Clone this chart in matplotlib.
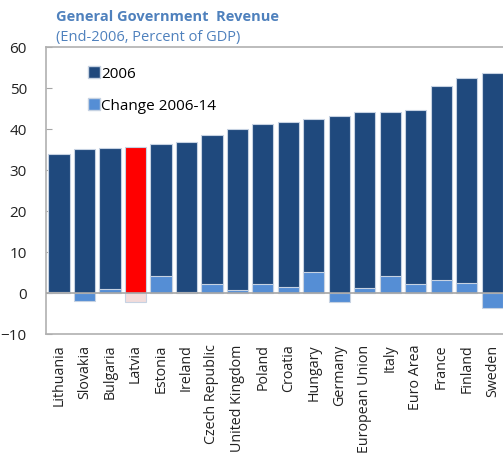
import matplotlib
matplotlib.use("Agg")
import matplotlib.pyplot as plt
import matplotlib.patches as patches

countries = ["Lithuania", "Slovakia", "Bulgaria", "Latvia", "Estonia", "Ireland",
             "Czech Republic", "United Kingdom", "Poland", "Croatia", "Hungary",
             "Germany", "European Union", "Italy", "Euro Area", "France",
             "Finland", "Sweden"]
rev_2006 = [33.8, 35.0, 35.4, 35.5, 36.4, 36.7, 38.4, 40.0, 41.2, 41.7, 42.3,
            43.1, 44.0, 44.0, 44.6, 50.4, 52.4, 53.5]
change_06_14 = [0.3, -1.9, 1.0, -2.3, 4.0, 0.2, 2.1, 0.7, 2.1, 1.5, 5.1,
                -2.3, 1.2, 4.0, 2.1, 3.2, 2.3, -3.6]
highlight = "Latvia"

dark = "#1f497d"
light = "#558ed5"
edge = "#c6d2e2"

plt.rcParams['font.family'] = ['Open Sans', 'DejaVu Sans']

fig = plt.figure(figsize=(5.03, 4.60), dpi=100)
ax = fig.add_axes([0.092, 0.272, 0.912, 0.624])

x = list(range(len(countries)))
base_cols = ["#ff0000" if c == highlight else dark for c in countries]
chg_cols = ["#f2dcdb" if c == highlight else light for c in countries]

ax.bar(x, rev_2006, width=0.83, color=base_cols, edgecolor=edge, linewidth=0.8, zorder=2)
ax.bar(x, change_06_14, width=0.83, color=chg_cols, edgecolor=edge, linewidth=0.8, zorder=3)

ax.axhline(0, color="#a6a6a6", linewidth=1.2, zorder=4)

ax.set_xlim(-0.5, len(countries) - 0.5)
ax.set_ylim(-10, 60)
ax.set_yticks(range(-10, 61, 10))
ax.set_xticks(x)
ax.set_xticklabels(countries, rotation=90, fontsize=10.3, color="#222222")
ax.tick_params(axis="x", length=0, pad=7)
ax.tick_params(axis="y", direction="in", length=4, color="#a6a6a6",
               labelsize=11, labelcolor="#222222", pad=14)

for s in ["left", "top", "bottom"]:
    ax.spines[s].set_color("#b0b0b0")
    ax.spines[s].set_linewidth(1.2)
ax.spines["right"].set_visible(False)

# legend
h1 = patches.Patch(facecolor=dark, edgecolor=edge)
h2 = patches.Patch(facecolor=light, edgecolor=edge)
leg = ax.legend([h1, h2], ["2006", "Change 2006-14"], loc="upper left",
                bbox_to_anchor=(0.06, 0.98), frameon=False, fontsize=11,
                handlelength=0.8, handleheight=0.8, handletextpad=0.1,
                labelspacing=1.1)

fig.text(0.111, 0.962, "General Government  Revenue", fontsize=10.5,
         fontweight="bold", color="#4f81bd", va="center")
fig.text(0.111, 0.918, "(End-2006, Percent of GDP)", fontsize=10.5,
         color="#4f81bd", va="center")

fig.savefig("out.png", dpi=100)
